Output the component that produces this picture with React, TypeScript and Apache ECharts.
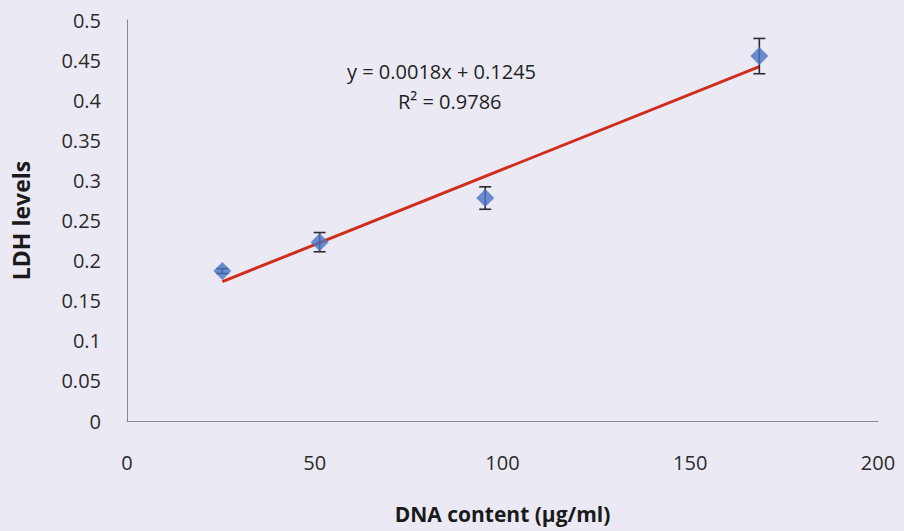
import React, { useEffect, useRef } from "react";
import * as echarts from "echarts";

const dnaContent = [25.4, 51.3, 95.4, 168.4];
const ldhLevels = [0.187, 0.223, 0.278, 0.455];
const ldhError = [0.003, 0.012, 0.014, 0.022];
const equationText = "y = 0.0018x + 0.1245";
const r2Text = "R² = 0.9786";
const xTitle = "DNA content (μg/ml)";
const yTitle = "LDH levels";

function fit(xs: number[], ys: number[]) {
  const n = xs.length;
  const mx = xs.reduce((a, b) => a + b, 0) / n;
  const my = ys.reduce((a, b) => a + b, 0) / n;
  let sxy = 0, sxx = 0;
  for (let i = 0; i < n; i++) {
    sxy += (xs[i] - mx) * (ys[i] - my);
    sxx += (xs[i] - mx) ** 2;
  }
  const slope = sxy / sxx;
  return { slope, intercept: my - slope * mx };
}

export default function App() {
  const ref = useRef<HTMLDivElement>(null);
  useEffect(() => {
    if (!ref.current) return;
    const chart = echarts.init(ref.current, null, { renderer: "svg" });
    const { slope, intercept } = fit(dnaContent, ldhLevels);
    const xMin = Math.min(...dnaContent);
    const xMax = Math.max(...dnaContent);
    const trend = [
      [xMin, slope * xMin + intercept],
      [xMax, slope * xMax + intercept],
    ];
    const font = "'Open Sans', Lato, sans-serif";
    chart.setOption({
      animation: false,
      backgroundColor: "#ebeaf4",
      textStyle: { fontFamily: font },
      grid: { left: 127, right: 26, top: 20, bottom: 110, containLabel: false },
      xAxis: {
        type: "value",
        min: 0,
        max: 200,
        interval: 50,
        axisLine: { show: true, lineStyle: { color: "#8a8a8e", width: 1 } },
        axisTick: { show: false },
        splitLine: { show: false },
        axisLabel: { margin: 31, fontSize: 20, color: "#2a2a2a", fontFamily: font },
        name: xTitle,
        nameLocation: "middle",
        nameGap: 82,
        nameTextStyle: { fontSize: 21, fontWeight: "bold", color: "#1a1a1a", fontFamily: font },
      },
      yAxis: {
        type: "value",
        min: 0,
        max: 0.5,
        interval: 0.05,
        axisLine: { show: true, lineStyle: { color: "#8a8a8e", width: 1 } },
        axisTick: { show: false },
        splitLine: { show: false },
        axisLabel: {
          margin: 26,
          fontSize: 20,
          color: "#2a2a2a",
          fontFamily: font,
          formatter: (v: number) => String(Math.round(v * 100) / 100),
        },
        name: yTitle,
        nameLocation: "middle",
        nameGap: 95,
        nameTextStyle: { fontSize: 23, fontWeight: "bold", color: "#1a1a1a", fontFamily: font },
      },
      series: [
        {
          type: "line",
          data: trend,
          showSymbol: false,
          symbol: "none",
          lineStyle: { color: "#d12d1c", width: 3 },
          z: 2,
        },
        {
          type: "custom",
          data: dnaContent.map((x, i) => [x, ldhLevels[i], ldhError[i]]),
          renderItem: (params: any, api: any) => {
            const x = api.value(0);
            const y = api.value(1);
            const e = api.value(2);
            const top = api.coord([x, y + e]);
            const bot = api.coord([x, y - e]);
            const cap = 6;
            const style = { stroke: "#2b2b2b", lineWidth: 1.6 };
            return {
              type: "group",
              children: [
                { type: "line", shape: { x1: top[0], y1: top[1], x2: bot[0], y2: bot[1] }, style },
                { type: "line", shape: { x1: top[0] - cap, y1: top[1], x2: top[0] + cap, y2: top[1] }, style },
                { type: "line", shape: { x1: bot[0] - cap, y1: bot[1], x2: bot[0] + cap, y2: bot[1] }, style },
              ],
            };
          },
          z: 3,
        },
        {
          type: "scatter",
          data: dnaContent.map((x, i) => [x, ldhLevels[i]]),
          symbol: "diamond",
          symbolSize: [18, 18],
          itemStyle: { color: "#4a74c6" },
          z: 4,
        },
      ],
      graphic: [
        {
          type: "text",
          left: 347,
          top: 61,
          style: { text: equationText, fontSize: 20, fill: "#1f1f1f", fontFamily: font },
        },
        {
          type: "text",
          left: 398,
          top: 91,
          style: { text: r2Text, fontSize: 20, fill: "#1f1f1f", fontFamily: font },
        },
      ],
    });
    return () => chart.dispose();
  }, []);
  return <div ref={ref} style={{ width: 904, height: 531, position: "absolute", left: 0, top: 0 }} />;
}
